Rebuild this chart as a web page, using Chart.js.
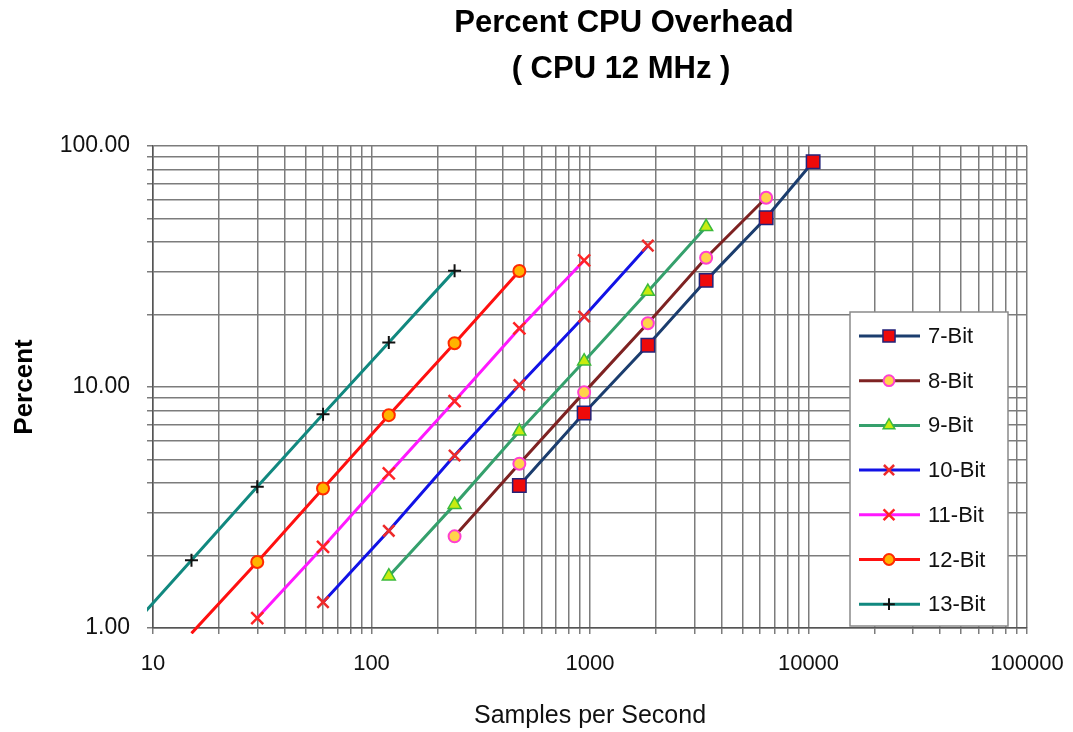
<!DOCTYPE html>
<html lang="en">
  <head>
    <meta charset="utf-8" />
    <script src="https://cdn.jsdelivr.net/npm/chart.js@4.4.0/dist/chart.umd.min.js"></script>
    <title>Percent CPU Overhead</title>
    <style>
      body { margin: 0; background: #fff; }
    </style>
  </head>
  <body>
    <canvas id="chart" width="1073" height="732"></canvas>
    <script>
      // samples per second (x) and percent CPU (y)
      const rates7 = [475, 940, 1840, 3400, 6400, 10500];
      const pct7 = [3.9, 7.8, 14.9, 27.7, 50.4, 86];
      const rates8 = [240, 475, 940, 1840, 3400, 6400];
      const pct8 = [2.4, 4.8, 9.5, 18.4, 34.4, 61];
      const rates9 = [120, 240, 475, 940, 1840, 3400];
      const pct9 = [1.64, 3.25, 6.55, 12.8, 24.9, 46.2];
      const rates10 = [60, 120, 240, 475, 940, 1840];
      const pct10 = [1.28, 2.53, 5.2, 10.2, 19.6, 38.6];
      const rates11 = [30, 60, 120, 240, 475, 940];
      const pct11 = [1.1, 2.17, 4.38, 8.74, 17.5, 33.5];
      const rates12 = [15, 30, 60, 120, 240, 475];
      const pct12 = [0.95, 1.88, 3.79, 7.64, 15.2, 30.3];
      const rates13 = [7.5, 15, 30, 60, 120, 240];
      const pct13 = [0.95, 1.91, 3.86, 7.71, 15.3, 30.4];

      const seriesNames = ['7-Bit', '8-Bit', '9-Bit', '10-Bit', '11-Bit', '12-Bit', '13-Bit'];

      const xDecades = [10, 100, 1000, 10000, 100000];
      const yDecades = [1, 10, 100];

      const FONT = "'Liberation Sans', Arial, sans-serif";

      function logTicks(decades) {
        const out = [];
        decades.forEach((d, i) => {
          if (i === decades.length - 1) { out.push(d); return; }
          for (let m = 1; m <= 9; m++) out.push(d * m);
        });
        return out;
      }
      function isDecade(v) {
        const l = Math.log10(v);
        return Math.abs(l - Math.round(l)) < 1e-9;
      }
      function pairs(xs, ys) {
        return xs.map((x, i) => ({ x: x, y: ys[i] }));
      }
      function series(label, xs, ys, line, style, radius, fill, edge, edgeWidth) {
        return {
          label: label,
          data: pairs(xs, ys),
          borderColor: line,
          borderWidth: 3,
          showLine: true,
          pointStyle: style,
          pointRadius: c => (c.raw && c.raw.y < 1 ? 0 : radius),
          pointHoverRadius: radius,
          pointBackgroundColor: fill,
          pointBorderColor: edge,
          pointBorderWidth: edgeWidth,
          clip: 6
        };
      }

      const datasets = [
        series(seriesNames[0], rates7, pct7, '#1b3d6e', 'rect', 9.5, '#ee0a0a', '#23237a', 1.5),
        series(seriesNames[1], rates8, pct8, '#7e2222', 'circle', 6, '#ffd34a', '#ff3fd0', 2),
        series(seriesNames[2], rates9, pct9, '#35a06c', 'triangle', 7.5, '#c8ec10', '#3cba3c', 1.5),
        series(seriesNames[3], rates10, pct10, '#1212e6', 'crossRot', 8, '#ee2a2a', '#ee2a2a', 2.5),
        series(seriesNames[4], rates11, pct11, '#ff18ff', 'crossRot', 8.5, '#ff2424', '#ff2424', 2.5),
        series(seriesNames[5], rates12, pct12, '#ff1010', 'circle', 6, '#ffb400', '#ff2a00', 2),
        series(seriesNames[6], rates13, pct13, '#11887f', 'cross', 6.5, '#111111', '#111111', 2)
      ];

      const titlePlugin = {
        id: 'twoLineTitle',
        afterDraw(chart) {
          const ctx = chart.ctx;
          ctx.save();
          ctx.fillStyle = '#000';
          ctx.textAlign = 'center';
          ctx.textBaseline = 'middle';
          ctx.font = 'bold 31px ' + FONT;
          ctx.fillText('Percent CPU Overhead', 624, 23);
          ctx.fillText('( CPU 12 MHz )', 621, 69);
          ctx.restore();
        }
      };

      const legendPlugin = {
        id: 'boxLegend',
        afterDatasetsDraw(chart) {
          const ctx = chart.ctx;
          const box = { left: 850, top: 312, right: 1008, bottom: 626 };
          ctx.save();
          ctx.fillStyle = '#fff';
          ctx.fillRect(box.left, box.top, box.right - box.left, box.bottom - box.top);
          ctx.strokeStyle = '#8a8a8a';
          ctx.lineWidth = 1.5;
          ctx.strokeRect(box.left, box.top, box.right - box.left, box.bottom - box.top);
          chart.data.datasets.forEach((ds, i) => {
            const y = 336 + i * 44.7;
            ctx.strokeStyle = ds.borderColor;
            ctx.lineWidth = 3;
            ctx.beginPath();
            ctx.moveTo(859, y);
            ctx.lineTo(920, y);
            ctx.stroke();
            const r = typeof ds.pointHoverRadius === 'number' ? ds.pointHoverRadius : 5;
            ctx.fillStyle = ds.pointBackgroundColor;
            ctx.strokeStyle = ds.pointBorderColor;
            ctx.lineWidth = ds.pointBorderWidth;
            if (Chart.helpers && Chart.helpers.drawPoint) {
              Chart.helpers.drawPoint(ctx, {
                pointStyle: ds.pointStyle, radius: r * 0.9, rotation: 0, borderWidth: ds.pointBorderWidth
              }, 889, y);
            }
            ctx.fillStyle = '#111';
            ctx.font = '22px ' + FONT;
            ctx.textAlign = 'left';
            ctx.textBaseline = 'middle';
            ctx.fillText(ds.label, 928, y + 1);
          });
          ctx.restore();
        }
      };

      const gridStyle = {
        color: '#7c7c7c',
        lineWidth: 1.5,
        drawTicks: true,
        tickLength: 6
      };

      new Chart(document.getElementById('chart').getContext('2d'), {
        type: 'scatter',
        data: { datasets: datasets },
        options: {
          responsive: false,
          animation: false,
          layout: { padding: { top: 146, right: 46, bottom: 0, left: 0 } },
          plugins: {
            legend: { display: false },
            title: { display: false },
            tooltip: { enabled: false }
          },
          scales: {
            x: {
              type: 'logarithmic',
              min: xDecades[0],
              max: xDecades[xDecades.length - 1],
              afterBuildTicks: s => { s.ticks = logTicks(xDecades).map(v => ({ value: v })); },
              afterFit: s => { s.height = 104; s.paddingLeft = 0; s.paddingRight = 0; },
              grid: gridStyle,
              border: { color: '#555', width: 1.5 },
              ticks: {
                autoSkip: false,
                maxRotation: 0,
                padding: 17,
                color: '#111',
                font: { family: FONT, size: 22 },
                callback: v => (isDecade(v) ? String(Math.round(v)) : '')
              },
              title: {
                display: true,
                text: 'Samples per Second',
                color: '#111',
                font: { family: FONT, size: 25 },
                padding: { top: 0, bottom: 1 }
              }
            },
            y: {
              type: 'logarithmic',
              min: yDecades[0],
              max: yDecades[yDecades.length - 1],
              afterBuildTicks: s => { s.ticks = logTicks(yDecades).map(v => ({ value: v })); },
              afterFit: s => { s.width = 153; s.paddingTop = 0; s.paddingBottom = 0; },
              grid: gridStyle,
              border: { color: '#555', width: 1.5 },
              ticks: {
                autoSkip: false,
                padding: 17,
                color: '#111',
                font: { family: FONT, size: 23 },
                callback: v => (isDecade(v) ? Number(v).toFixed(2) : '')
              },
              title: {
                display: true,
                text: 'Percent',
                color: '#000',
                font: { family: FONT, size: 26, weight: 'bold' },
                padding: { top: 9, bottom: 0 }
              }
            }
          }
        },
        plugins: [titlePlugin, legendPlugin]
      });
    </script>
  </body>
</html>
